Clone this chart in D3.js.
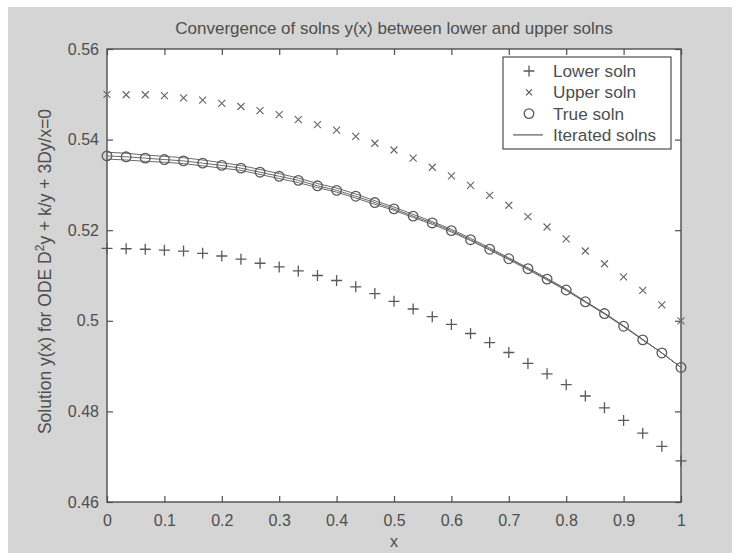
<!DOCTYPE html>
<html><head><meta charset="utf-8">
<script src="https://cdn.jsdelivr.net/npm/d3@7"></script>
<style>body{margin:0;background:#fff}text{font-family:"Liberation Sans",Arial,sans-serif}</style>
</head><body>
<script>
// ---- data ----
const xs = d3.range(31).map(i => i / 30); // grid x = 0, 1/30, ..., 1
const lowerSoln = [0.5160,0.5159,0.5158,0.5156,0.5154,0.5149,0.5143,0.5136,0.5127,0.5119,0.5110,0.5100,0.5089,0.5075,0.5060,0.5043,0.5026,0.5009,0.4992,0.4972,0.4952,0.4930,0.4906,0.4883,0.4859,0.4834,0.4808,0.4780,0.4752,0.4723,0.4691];
const upperSoln = [0.5500,0.5499,0.5499,0.5497,0.5492,0.5487,0.5480,0.5473,0.5464,0.5455,0.5444,0.5433,0.5421,0.5407,0.5392,0.5377,0.5359,0.5339,0.5320,0.5299,0.5277,0.5255,0.5230,0.5207,0.5181,0.5154,0.5126,0.5097,0.5067,0.5035,0.5000];
const trueSoln = [0.5364,0.5362,0.5359,0.5356,0.5353,0.5348,0.5343,0.5337,0.5328,0.5319,0.5310,0.5298,0.5288,0.5275,0.5261,0.5247,0.5231,0.5216,0.5199,0.5179,0.5158,0.5137,0.5115,0.5092,0.5068,0.5042,0.5016,0.4988,0.4958,0.4929,0.4897];
const iterA = [0.5372,0.5370,0.5366,0.5363,0.5360,0.5355,0.5349,0.5343,0.5334,0.5325,0.5315,0.5303,0.5293,0.5280,0.5265,0.5251,0.5235,0.5219,0.5202,0.5182,0.5161,0.5139,0.5117,0.5094,0.5070,0.5043,0.5017,0.4989,0.4959,0.4929,0.4897];
const iterB = [0.5357,0.5355,0.5352,0.5350,0.5347,0.5342,0.5337,0.5332,0.5323,0.5314,0.5305,0.5294,0.5284,0.5271,0.5257,0.5244,0.5228,0.5213,0.5196,0.5177,0.5156,0.5135,0.5113,0.5090,0.5067,0.5041,0.5015,0.4987,0.4958,0.4929,0.4897];
const iterated = [iterA, trueSoln, iterB];
const xTicks = [0,0.1,0.2,0.3,0.4,0.5,0.6,0.7,0.8,0.9,1];
const xTickLabels = ["0","0.1","0.2","0.3","0.4","0.5","0.6","0.7","0.8","0.9","1"];
const yTicks = [0.46,0.48,0.5,0.52,0.54,0.56];
const yTickLabels = ["0.46","0.48","0.5","0.52","0.54","0.56"];
const legendLabels = ["Lower soln","Upper soln","True soln","Iterated solns"];

// ---- layout ----
const W = 738, H = 560;
const L = 107, R = 681, T = 49, B = 502;
const ink = "#4e4e4e", markInk = "#5a5a5a";

const svg = d3.select("body").append("svg").attr("width", W).attr("height", H);
svg.append("rect").attr("x", 8).attr("y", 7).attr("width", 724).attr("height", 546).attr("fill", "#d5d5d5");
svg.append("rect").attr("x", L).attr("y", T).attr("width", R - L).attr("height", B - T).attr("fill", "#fff");

const x = d3.scaleLinear().domain([0, 1]).range([L, R]);
const y = d3.scaleLinear().domain([0.46, 0.56]).range([B, T]);

function styleAxis(g) {
  g.select(".domain").remove();
  g.selectAll("line").attr("stroke", ink).attr("stroke-width", 1.2);
  g.selectAll("text").attr("fill", ink).attr("font-size", 16).attr("font-family", '"Liberation Sans",Arial,sans-serif');
}
svg.append("g").attr("transform", `translate(0,${B})`)
  .call(d3.axisBottom(x).tickValues(xTicks).tickFormat((d, i) => xTickLabels[i]).tickSize(-6).tickPadding(13))
  .call(styleAxis);
svg.append("g").attr("transform", `translate(0,${T})`)
  .call(d3.axisTop(x).tickValues(xTicks).tickFormat("").tickSize(-6))
  .call(styleAxis);
svg.append("g").attr("transform", `translate(${L},0)`)
  .call(d3.axisLeft(y).tickValues(yTicks).tickFormat((d, i) => yTickLabels[i]).tickSize(-6).tickPadding(8))
  .call(styleAxis);
svg.append("g").attr("transform", `translate(${R},0)`)
  .call(d3.axisRight(y).tickValues(yTicks).tickFormat("").tickSize(-6))
  .call(styleAxis);
svg.append("rect").attr("x", L).attr("y", T).attr("width", R - L).attr("height", B - T)
  .attr("fill", "none").attr("stroke", ink).attr("stroke-width", 1.4);

// iterated lines
const line = d3.line().x((d, i) => x(xs[i])).y(d => y(d));
svg.append("g").selectAll("path").data(iterated).join("path")
  .attr("d", line).attr("fill", "none").attr("stroke", "#6a6a6a").attr("stroke-width", 1);

// markers
const plusPath = s => `M${-s},0H${s}M0,${-s}V${s}`;
const crossPath = s => `M${-s},${-s}L${s},${s}M${-s},${s}L${s},${-s}`;
svg.append("g").selectAll("path").data(lowerSoln).join("path")
  .attr("transform", (d, i) => `translate(${x(xs[i])},${y(d)})`)
  .attr("d", plusPath(5.5)).attr("stroke", markInk).attr("stroke-width", 1.3).attr("fill", "none");
svg.append("g").selectAll("path").data(upperSoln).join("path")
  .attr("transform", (d, i) => `translate(${x(xs[i])},${y(d)})`)
  .attr("d", crossPath(3.5)).attr("stroke", "#6a6a6a").attr("stroke-width", 1.2).attr("fill", "none");
svg.append("g").selectAll("circle").data(trueSoln).join("circle")
  .attr("cx", (d, i) => x(xs[i])).attr("cy", d => y(d)).attr("r", 4.8)
  .attr("fill", "none").attr("stroke", markInk).attr("stroke-width", 1.3);

// legend
const lg = svg.append("g");
lg.append("rect").attr("x", 503).attr("y", 57).attr("width", 168).attr("height", 92)
  .attr("fill", "#fff").attr("stroke", ink).attr("stroke-width", 1.2);
legendLabels.forEach((lab, i) => {
  const cy = 71 + i * 21.3;
  const g = lg.append("g").attr("transform", `translate(529,${cy})`);
  if (i === 0) g.append("path").attr("d", plusPath(5.5)).attr("stroke", markInk).attr("stroke-width", 1.3);
  if (i === 1) g.append("path").attr("d", crossPath(3)).attr("stroke", markInk).attr("stroke-width", 1.2);
  if (i === 2) g.append("circle").attr("r", 4.8).attr("fill", "none").attr("stroke", markInk).attr("stroke-width", 1.3);
  if (i === 3) g.append("line").attr("x1", -16).attr("x2", 14).attr("stroke", markInk).attr("stroke-width", 1.2);
  lg.append("text").attr("x", 553).attr("y", cy).attr("dy", "0.36em").attr("font-size", 17.2)
    .attr("fill", ink).text(lab);
});

// titles
svg.append("text").attr("x", (L + R) / 2).attr("y", 34).attr("text-anchor", "middle")
  .attr("font-size", 17).attr("fill", ink).text("Convergence of solns y(x) between lower and upper solns");
svg.append("text").attr("x", (L + R) / 2).attr("y", 547).attr("text-anchor", "middle")
  .attr("font-size", 16).attr("fill", ink).text("x");
const yl = svg.append("text").attr("transform", `translate(51,${(T + B) / 2 - 4}) rotate(-90)`)
  .attr("text-anchor", "middle").attr("font-size", 17.5).attr("fill", ink);
yl.append("tspan").text("Solution y(x) for ODE D");
yl.append("tspan").attr("dy", -7).attr("font-size", 12).text("2");
yl.append("tspan").attr("dy", 7).text("y + k/y + 3Dy/x=0");
</script>
</body></html>
